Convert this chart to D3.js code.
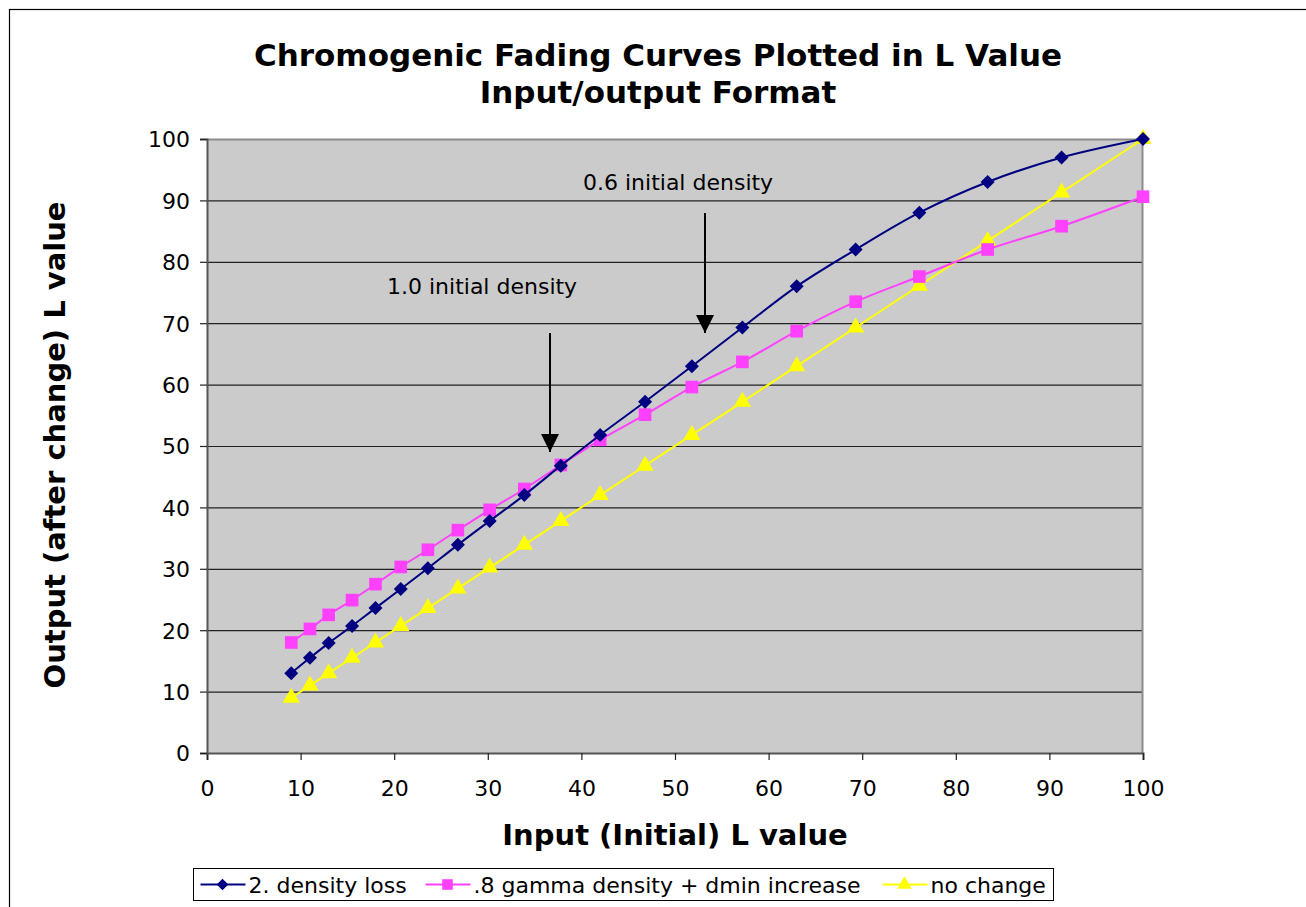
<!DOCTYPE html>
<html>
<head>
<meta charset="utf-8">
<script src="https://cdn.jsdelivr.net/npm/d3@7"></script>
<style>
  body { margin: 0; background: #fff; }
  text { font-family: "DejaVu Sans", Verdana, sans-serif; }
</style>
</head>
<body>
<div id="chart"></div>
<script>
// data
var inputL = [9, 11, 13, 15.5, 18, 20.7, 23.6, 26.8, 30.2, 33.9, 37.8, 42, 46.8, 51.8, 57.2, 63, 69.3, 76.1, 83.4, 91.3, 100];
var densityLoss = [13, 15.5, 17.9, 20.7, 23.6, 26.7, 30.1, 33.9, 37.8, 42, 46.8, 51.8, 57.2, 63, 69.3, 76, 82, 88, 93, 97, 100];
var gammaDmin = [18, 20.2, 22.5, 24.9, 27.5, 30.3, 33.1, 36.3, 39.6, 43, 46.9, 51, 55.1, 59.6, 63.7, 68.7, 73.5, 77.6, 82, 85.8, 90.6];
var noChange = [9, 11, 13, 15.5, 18, 20.7, 23.6, 26.8, 30.2, 33.9, 37.8, 42, 46.8, 51.8, 57.2, 63, 69.3, 76.1, 83.4, 91.3, 100];
var seriesNames = ["2. density loss", ".8 gamma density + dmin increase", "no change"];
var xTicks = [0, 10, 20, 30, 40, 50, 60, 70, 80, 90, 100];
var yTicks = [0, 10, 20, 30, 40, 50, 60, 70, 80, 90, 100];

var W = 1306, H = 907;
var margin = {top: 139, left: 207, right: 1306 - 1143, bottom: 907 - 753};
var width = W - margin.left - margin.right,
    height = H - margin.top - margin.bottom;

var svg = d3.select("#chart").append("svg")
    .attr("width", W)
    .attr("height", H);

// outer frame (only top/left visible)
svg.append("rect")
    .attr("x", 9.5).attr("y", 9.5)
    .attr("width", W + 20).attr("height", H + 20)
    .attr("fill", "#fff").attr("stroke", "#000").attr("stroke-width", 1.2);

// titles
svg.append("text").attr("x", 658).attr("y", 66)
    .attr("text-anchor", "middle").style("font-size", "31px").style("font-weight", "bold")
    .text("Chromogenic Fading Curves Plotted in L Value");
svg.append("text").attr("x", 658).attr("y", 103)
    .attr("text-anchor", "middle").style("font-size", "31px").style("font-weight", "bold")
    .text("Input/output Format");

var g = svg.append("g")
    .attr("transform", "translate(" + margin.left + "," + margin.top + ")");

var x = d3.scaleLinear().domain([0, 100]).range([0, width]);
var y = d3.scaleLinear().domain([0, 100]).range([height, 0]);

// plot background
g.append("rect")
    .attr("width", width).attr("height", height)
    .attr("fill", "#cbcbcb");

// gridlines
g.append("g")
    .selectAll("line")
    .data(yTicks.slice(1, -1))
    .enter()
    .append("line")
      .attr("x1", 0).attr("x2", width)
      .attr("y1", function(d) { return y(d) + 0.5; })
      .attr("y2", function(d) { return y(d) + 0.5; })
      .attr("stroke", "#222").attr("stroke-width", 1.2);

// plot border top/right
g.append("path")
    .attr("d", "M0,0.5H" + (width - 0.5) + "V" + height)
    .attr("fill", "none").attr("stroke", "#8c8c8c").attr("stroke-width", 2);

// axes
var xAxis = g.append("g")
    .attr("transform", "translate(0," + height + ")")
    .call(d3.axisBottom(x).tickValues(xTicks).tickSize(7).tickPadding(20));
var yAxis = g.append("g")
    .call(d3.axisLeft(y).tickValues(yTicks).tickSize(7).tickPadding(10));
[xAxis, yAxis].forEach(function(a) {
  a.select(".domain").attr("stroke", "#555").attr("stroke-width", 2);
  a.selectAll(".tick line").attr("stroke", "#222").attr("stroke-width", 1.2);
  a.selectAll(".tick text").style("font-size", "22px").attr("fill", "#000")
    .style("font-family", "DejaVu Sans, Verdana, sans-serif");
});
yAxis.selectAll(".tick text").attr("dy", "0.36em");

// axis titles
svg.append("text").attr("x", 675).attr("y", 845)
    .attr("text-anchor", "middle").style("font-size", "29px").style("font-weight", "bold")
    .text("Input (Initial) L value");
svg.append("text")
    .attr("transform", "translate(65,445) rotate(-90)")
    .attr("text-anchor", "middle").style("font-size", "29px").style("font-weight", "bold")
    .text("Output (after change) L value");

// marker shapes
var diamond = { draw: function(ctx, size) {
  var r = Math.sqrt(size / 2);
  ctx.moveTo(0, -r); ctx.lineTo(r, 0); ctx.lineTo(0, r); ctx.lineTo(-r, 0); ctx.closePath();
}};

// series
var series = [
  {name: seriesNames[0], values: densityLoss, color: "#000080", shape: diamond, size: 98},
  {name: seriesNames[1], values: gammaDmin, color: "#ff40ff", shape: d3.symbolSquare, size: 160},
  {name: seriesNames[2], values: noChange, color: "#ffff00", shape: d3.symbolTriangle, size: 130}
];

var line = d3.line()
    .x(function(d) { return x(d.x); })
    .y(function(d) { return y(d.y); })
    .curve(d3.curveCatmullRom.alpha(0.5));

series.forEach(function(s) {
  s.points = inputL.map(function(v, i) { return {x: v, y: s.values[i]}; });
});

// draw in reverse so the blue sits on top
series.slice().reverse().forEach(function(s) {
  var sg = g.append("g");
  sg.append("path")
    .attr("d", line(s.points))
    .attr("fill", "none")
    .attr("stroke", s.color)
    .attr("stroke-width", 2);
  sg.selectAll("path.pt")
    .data(s.points)
    .enter()
    .append("path")
      .attr("class", "pt")
      .attr("transform", function(d) { return "translate(" + x(d.x) + "," + y(d.y) + ")"; })
      .attr("d", d3.symbol().type(s.shape).size(s.size))
      .attr("fill", s.color);
});

// annotations
svg.append("defs").append("marker")
    .attr("id", "arrow").attr("viewBox", "0 0 10 10")
    .attr("refX", 10).attr("refY", 5)
    .attr("markerWidth", 9).attr("markerHeight", 9)
    .attr("markerUnits", "strokeWidth")
    .attr("orient", "auto")
  .append("path").attr("d", "M0,0L10,5L0,10Z").attr("fill", "#000");

svg.append("text").attr("x", 583).attr("y", 190)
    .style("font-size", "22px").text("0.6 initial density");
svg.append("line").attr("x1", 705).attr("y1", 213).attr("x2", 705).attr("y2", 333)
    .attr("stroke", "#000").attr("stroke-width", 2).attr("marker-end", "url(#arrow)");
svg.append("text").attr("x", 387).attr("y", 294)
    .style("font-size", "22px").text("1.0 initial density");
svg.append("line").attr("x1", 550).attr("y1", 333).attr("x2", 550).attr("y2", 452)
    .attr("stroke", "#000").attr("stroke-width", 2).attr("marker-end", "url(#arrow)");

// legend
var legend = svg.append("g").attr("transform", "translate(193.5,868.5)");
legend.append("rect").attr("width", 860).attr("height", 32)
    .attr("fill", "#fff").attr("stroke", "#000").attr("stroke-width", 1);
var legendX = [7, 232, 689];
series.forEach(function(s, i) {
  var lg = legend.append("g").attr("transform", "translate(" + legendX[i] + ",16)");
  lg.append("line").attr("x1", 0).attr("x2", 45).attr("stroke", s.color).attr("stroke-width", 2);
  lg.append("path").attr("transform", "translate(22,0)")
    .attr("d", d3.symbol().type(s.shape).size(s.size * 0.7)).attr("fill", s.color);
  lg.append("text").attr("x", 48).attr("y", 8).style("font-size", "22px").text(s.name);
});
</script>
</body>
</html>
